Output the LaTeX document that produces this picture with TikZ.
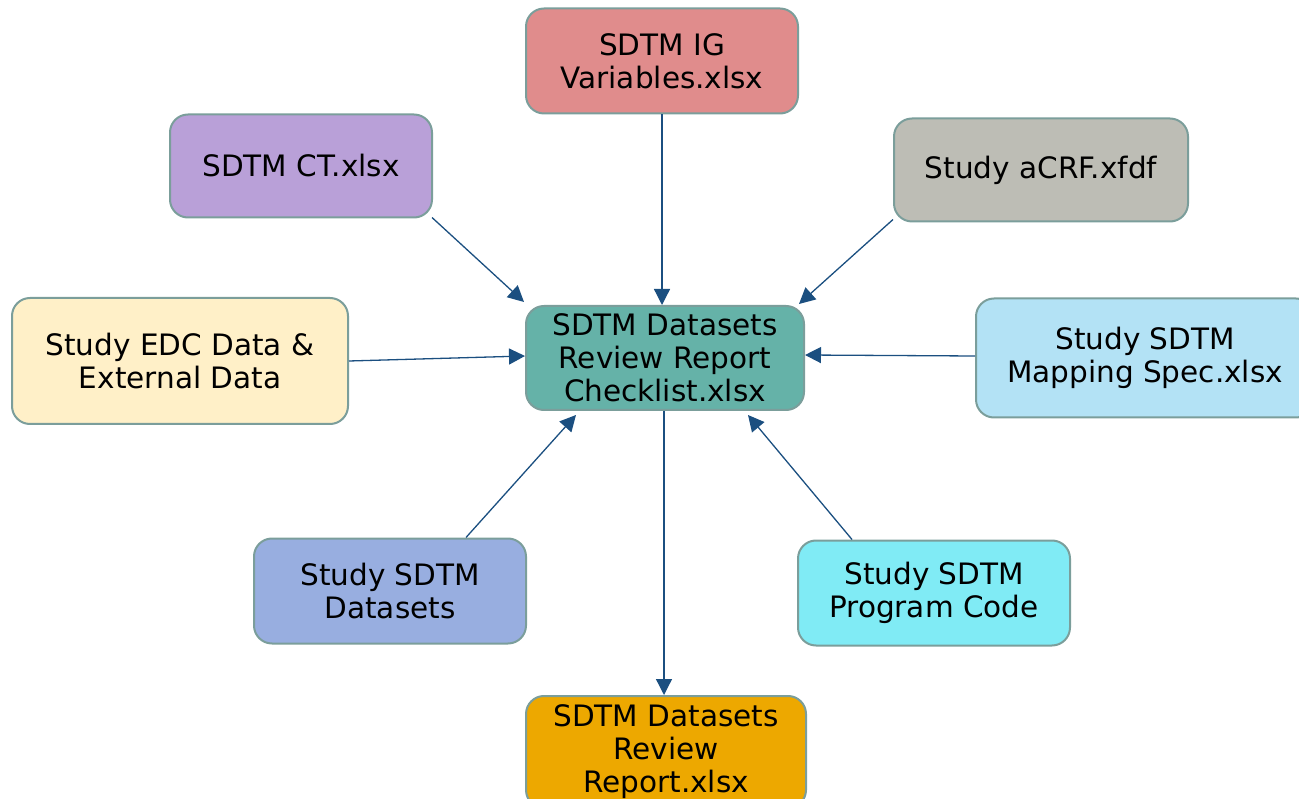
\documentclass[tikz,border=0pt]{standalone}
\usepackage{fontspec}
\setmainfont{DejaVu Sans}
\usepackage{xcolor}
\usetikzlibrary{arrows.meta, calc, positioning}

\definecolor{edgeblue}{HTML}{1B4F80}
\definecolor{boxline}{HTML}{7B9E9B}
\definecolor{igred}{HTML}{E08C8C}
\definecolor{ctpurple}{HTML}{B9A0D8}
\definecolor{crfgray}{HTML}{BDBDB5}
\definecolor{edccream}{HTML}{FFF0C8}
\definecolor{chkteal}{HTML}{65B2A8}
\definecolor{specblue}{HTML}{B3E2F5}
\definecolor{dsblue}{HTML}{98AEE0}
\definecolor{pgmcyan}{HTML}{80EBF5}
\definecolor{rptorange}{HTML}{EDA800}

\begin{document}
\begin{tikzpicture}[x=1pt, y=-1pt,
    box/.style={draw=boxline, line width=2pt, rounded corners=18pt, align=center,
        inner sep=0pt, font=\fontsize{29.5}{33}\selectfont},
    flow/.style={draw=edgeblue, line width=1.3pt, -{Triangle[length=16pt, width=16pt]}}]
                        \useasboundingbox (0, 0) rectangle (1299, 799);

                        \node[box, fill=igred, minimum width=272pt, minimum height=105pt] (ig) at (662, 61) {SDTM IG\\Variables.xlsx};
                        \node[box, fill=ctpurple, minimum width=262pt, minimum height=103pt] (ct) at (301, 166) {SDTM CT.xlsx};
                        \node[box, fill=crfgray, minimum width=294pt, minimum height=103pt] (crf) at (1041, 170) {Study aCRF.xfdf};
                        \node[box, fill=edccream, minimum width=336pt, minimum height=126pt] (edc) at (180, 361) {Study EDC Data \&\\External Data};
                        \node[box, fill=chkteal, minimum width=278pt, minimum height=104pt] (chk) at (665, 358) {SDTM Datasets\\Review Report\\Checklist.xlsx};
                        \node[box, fill=specblue, minimum width=338pt, minimum height=119pt] (spec) at (1145, 358) {Study SDTM\\Mapping Spec.xlsx};
                        \node[box, fill=dsblue, minimum width=272pt, minimum height=105pt] (ds) at (390, 591) {Study SDTM\\Datasets};
                        \node[box, fill=pgmcyan, minimum width=272pt, minimum height=105pt] (pgm) at (934, 593) {Study SDTM\\Program Code};
                        \node[box, fill=rptorange, minimum width=280pt, minimum height=112pt] (rpt) at (666, 752) {SDTM Datasets\\Review\\Report.xlsx};

                        \draw
                        (ig.south) edge[flow] (ig.south |- chk.north)
                        ([xshift=-1pt, yshift=1pt]ct.south east) edge[flow] ([xshift=-1pt, yshift=3pt]chk.north west)
                        ([yshift=3pt]crf.south west) edge[flow] ([xshift=-6pt, yshift=1pt]chk.north east)
                        (edc.east) edge[flow] ([yshift=2pt]chk.west)
                        ([yshift=2pt]spec.west) edge[flow] ([yshift=3pt]chk.east)
                        ([xshift=76pt]ds.north) edge[flow] ([xshift=-89pt, yshift=-4pt]chk.south)
                        ([xshift=-82pt]pgm.north) edge[flow] ([xshift=83pt, yshift=-4pt]chk.south)
                        ([xshift=-1pt]chk.south) edge[flow] ([xshift=-2pt]rpt.north);
                    \end{tikzpicture}
\end{document}
